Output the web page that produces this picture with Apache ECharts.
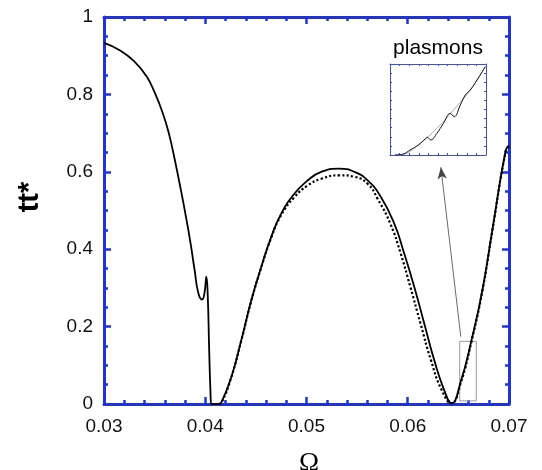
<!DOCTYPE html>
<html>
<head>
<meta charset="utf-8">
<script src="https://cdn.jsdelivr.net/npm/echarts@6/dist/echarts.min.js"></script>
<style>html,body{margin:0;padding:0;background:#fff}#c{width:542px;height:470px}</style>
</head>
<body>
<div id="c"></div>
<script>
// Main solid curve
const solidX = [0.0300,0.03164,0.03300,0.03420,0.03500,0.03580,0.03640,0.03700,0.03760,0.03810,0.03855,0.03895,0.03932,0.03969,0.03992,0.04011,0.04025,0.04038,0.04051,0.04061,0.04133,0.04159,0.04258,0.04356,0.04455,0.04553,0.04652,0.04750,0.04882,0.05013,0.05145,0.05325,0.05473,0.05604,0.05735,0.05867,0.05965,0.06064,0.06163,0.06261,0.06360,0.06432,0.06524,0.06630,0.06737,0.06835,0.06967,0.0700];
const solidY = [0.933,0.913,0.885,0.847,0.805,0.752,0.700,0.630,0.552,0.483,0.415,0.346,0.286,0.270,0.286,0.329,0.277,0.148,0.036,0.000,0.000,0.004,0.070,0.165,0.268,0.354,0.432,0.492,0.544,0.578,0.600,0.608,0.600,0.578,0.535,0.466,0.389,0.303,0.208,0.114,0.036,0.002,0.058,0.165,0.294,0.449,0.655,0.668];
// Dotted curve
const dottedX = [0.04133,0.04159,0.04258,0.04356,0.04455,0.04553,0.04652,0.04750,0.04882,0.05013,0.05145,0.05325,0.05473,0.05604,0.05703,0.05828,0.05930,0.06025,0.06126,0.06228,0.06335,0.06432,0.06524,0.06630,0.06737,0.06835,0.06967,0.0700];
const dottedY = [0.000,0.003,0.070,0.164,0.267,0.353,0.430,0.488,0.535,0.565,0.582,0.591,0.587,0.569,0.530,0.466,0.389,0.303,0.208,0.114,0.036,0.002,0.055,0.162,0.292,0.447,0.653,0.666];
// Inset (zoomed plasmon region, normalised units)
const insetBlackX = [0.05,0.14,0.209,0.296,0.366,0.39,0.425,0.488,0.557,0.627,0.669,0.732,0.784,0.836,0.906,0.993];
const insetBlackY = [0.0,0.011,0.055,0.11,0.176,0.194,0.165,0.238,0.348,0.458,0.421,0.549,0.659,0.714,0.824,0.971];
const insetGrayX = [0.05,0.139,0.314,0.488,0.662,0.836,0.993];
const insetGrayY = [0.0,0.007,0.128,0.293,0.495,0.714,0.97];
// Zoom box and arrow (data coordinates)
const zoomBox = [[0.06513,0.008],[0.06677,0.162]];
const arrowFromTo = [[0.06524,0.174],[0.06327,0.612]];
const xTicks = [0.03,0.04,0.05,0.06,0.07];
const yTicks = [0,0.2,0.4,0.6,0.8,1];

const zip = (a,b) => a.map((v,i) => [v,b[i]]);
const BLUE = '#1f33d8';
const FONT = '"Liberation Sans", Arial, Helvetica, sans-serif';

function mainAxis(pos, isX, showLabel) {
  return {
    type: 'value', gridIndex: 0, position: pos,
    min: isX ? xTicks[0] : yTicks[0],
    max: isX ? xTicks[xTicks.length-1] : yTicks[yTicks.length-1],
    interval: isX ? 0.01 : 0.2,
    axisLine: {show: true, onZero: false, lineStyle: {color: BLUE, width: 3}},
    axisTick: {show: true, inside: true, length: 7, lineStyle: {color: BLUE, width: 2.5}},
    minorTick: {show: true, splitNumber: isX ? 5 : 4, length: 4, lineStyle: {color: BLUE, width: 2.5}},
    splitLine: {show: false},
    axisLabel: {show: showLabel, color: '#111', fontSize: 19, fontFamily: FONT, margin: isX ? 13 : 11,
      formatter: v => isX ? (+v).toFixed(2) : ((+v === 0 || +v === 1) ? String(Math.round(v)) : (+v).toFixed(1))}
  };
}
function insetAxis(pos) {
  return {
    type: 'value', gridIndex: 1, position: pos, min: 0, max: 1, interval: 0.1,
    axisLine: {show: true, onZero: false, lineStyle: {color: '#3a4fe0', width: 1}},
    axisTick: {show: true, inside: true, length: 2, lineStyle: {color: '#3a4fe0', width: 1}},
    splitLine: {show: false}, axisLabel: {show: false}
  };
}

const chart = echarts.init(document.getElementById('c'), null, {renderer: 'canvas'});
chart.setOption({
  animation: false,
  backgroundColor: '#fff',
  grid: [
    {left: 104, top: 17, width: 405, height: 387},
    {left: 390, top: 64, width: 96, height: 91}
  ],
  xAxis: [mainAxis('bottom', true, true), mainAxis('top', true, false), insetAxis('bottom'), insetAxis('top')],
  yAxis: [mainAxis('left', false, true), mainAxis('right', false, false), insetAxis('left'), insetAxis('right')],
  series: [
    {type: 'line', xAxisIndex: 0, yAxisIndex: 0, data: zip(dottedX, dottedY), showSymbol: false, smooth: 0.5,
     lineStyle: {color: '#000', width: 2.2, type: 'dotted'}},
    {type: 'line', xAxisIndex: 0, yAxisIndex: 0, data: zip(solidX, solidY), showSymbol: false, smooth: 0.5,
     lineStyle: {color: '#000', width: 1.8},
     markArea: {silent: true, itemStyle: {color: 'rgba(0,0,0,0)', borderColor: '#999', borderWidth: 1},
       data: [[{coord: zoomBox[0]}, {coord: zoomBox[1]}]]},
     markLine: {silent: true, symbol: ['none', 'arrow'], symbolSize: [7, 12], label: {show: false},
       lineStyle: {color: '#444', width: 0.8, type: 'solid'},
       data: [[{coord: arrowFromTo[0]}, {coord: arrowFromTo[1]}]]}},
    {type: 'line', xAxisIndex: 2, yAxisIndex: 2, data: zip(insetGrayX, insetGrayY), showSymbol: false, smooth: 0.4,
     lineStyle: {color: '#999', width: 0.8}},
    {type: 'line', xAxisIndex: 2, yAxisIndex: 2, data: zip(insetBlackX, insetBlackY), showSymbol: false, smooth: 0.4,
     lineStyle: {color: '#111', width: 1}}
  ],
  graphic: [
    {type: 'text', x: 29.5, y: 197, rotation: Math.PI/2,
     style: {text: 'tt*', font: 'bold 29px ' + FONT, fill: '#000', align: 'center', verticalAlign: 'middle'}},
    {type: 'text', x: 309, y: 450,
     style: {text: 'Ω', font: '27px "Liberation Serif", "Times New Roman", serif', fill: '#000', align: 'center', verticalAlign: 'top'}},
    {type: 'text', x: 438, y: 48,
     style: {text: 'plasmons', font: '21px ' + FONT, fill: '#000', align: 'center', verticalAlign: 'middle'}}
  ]
});
</script>
</body>
</html>
